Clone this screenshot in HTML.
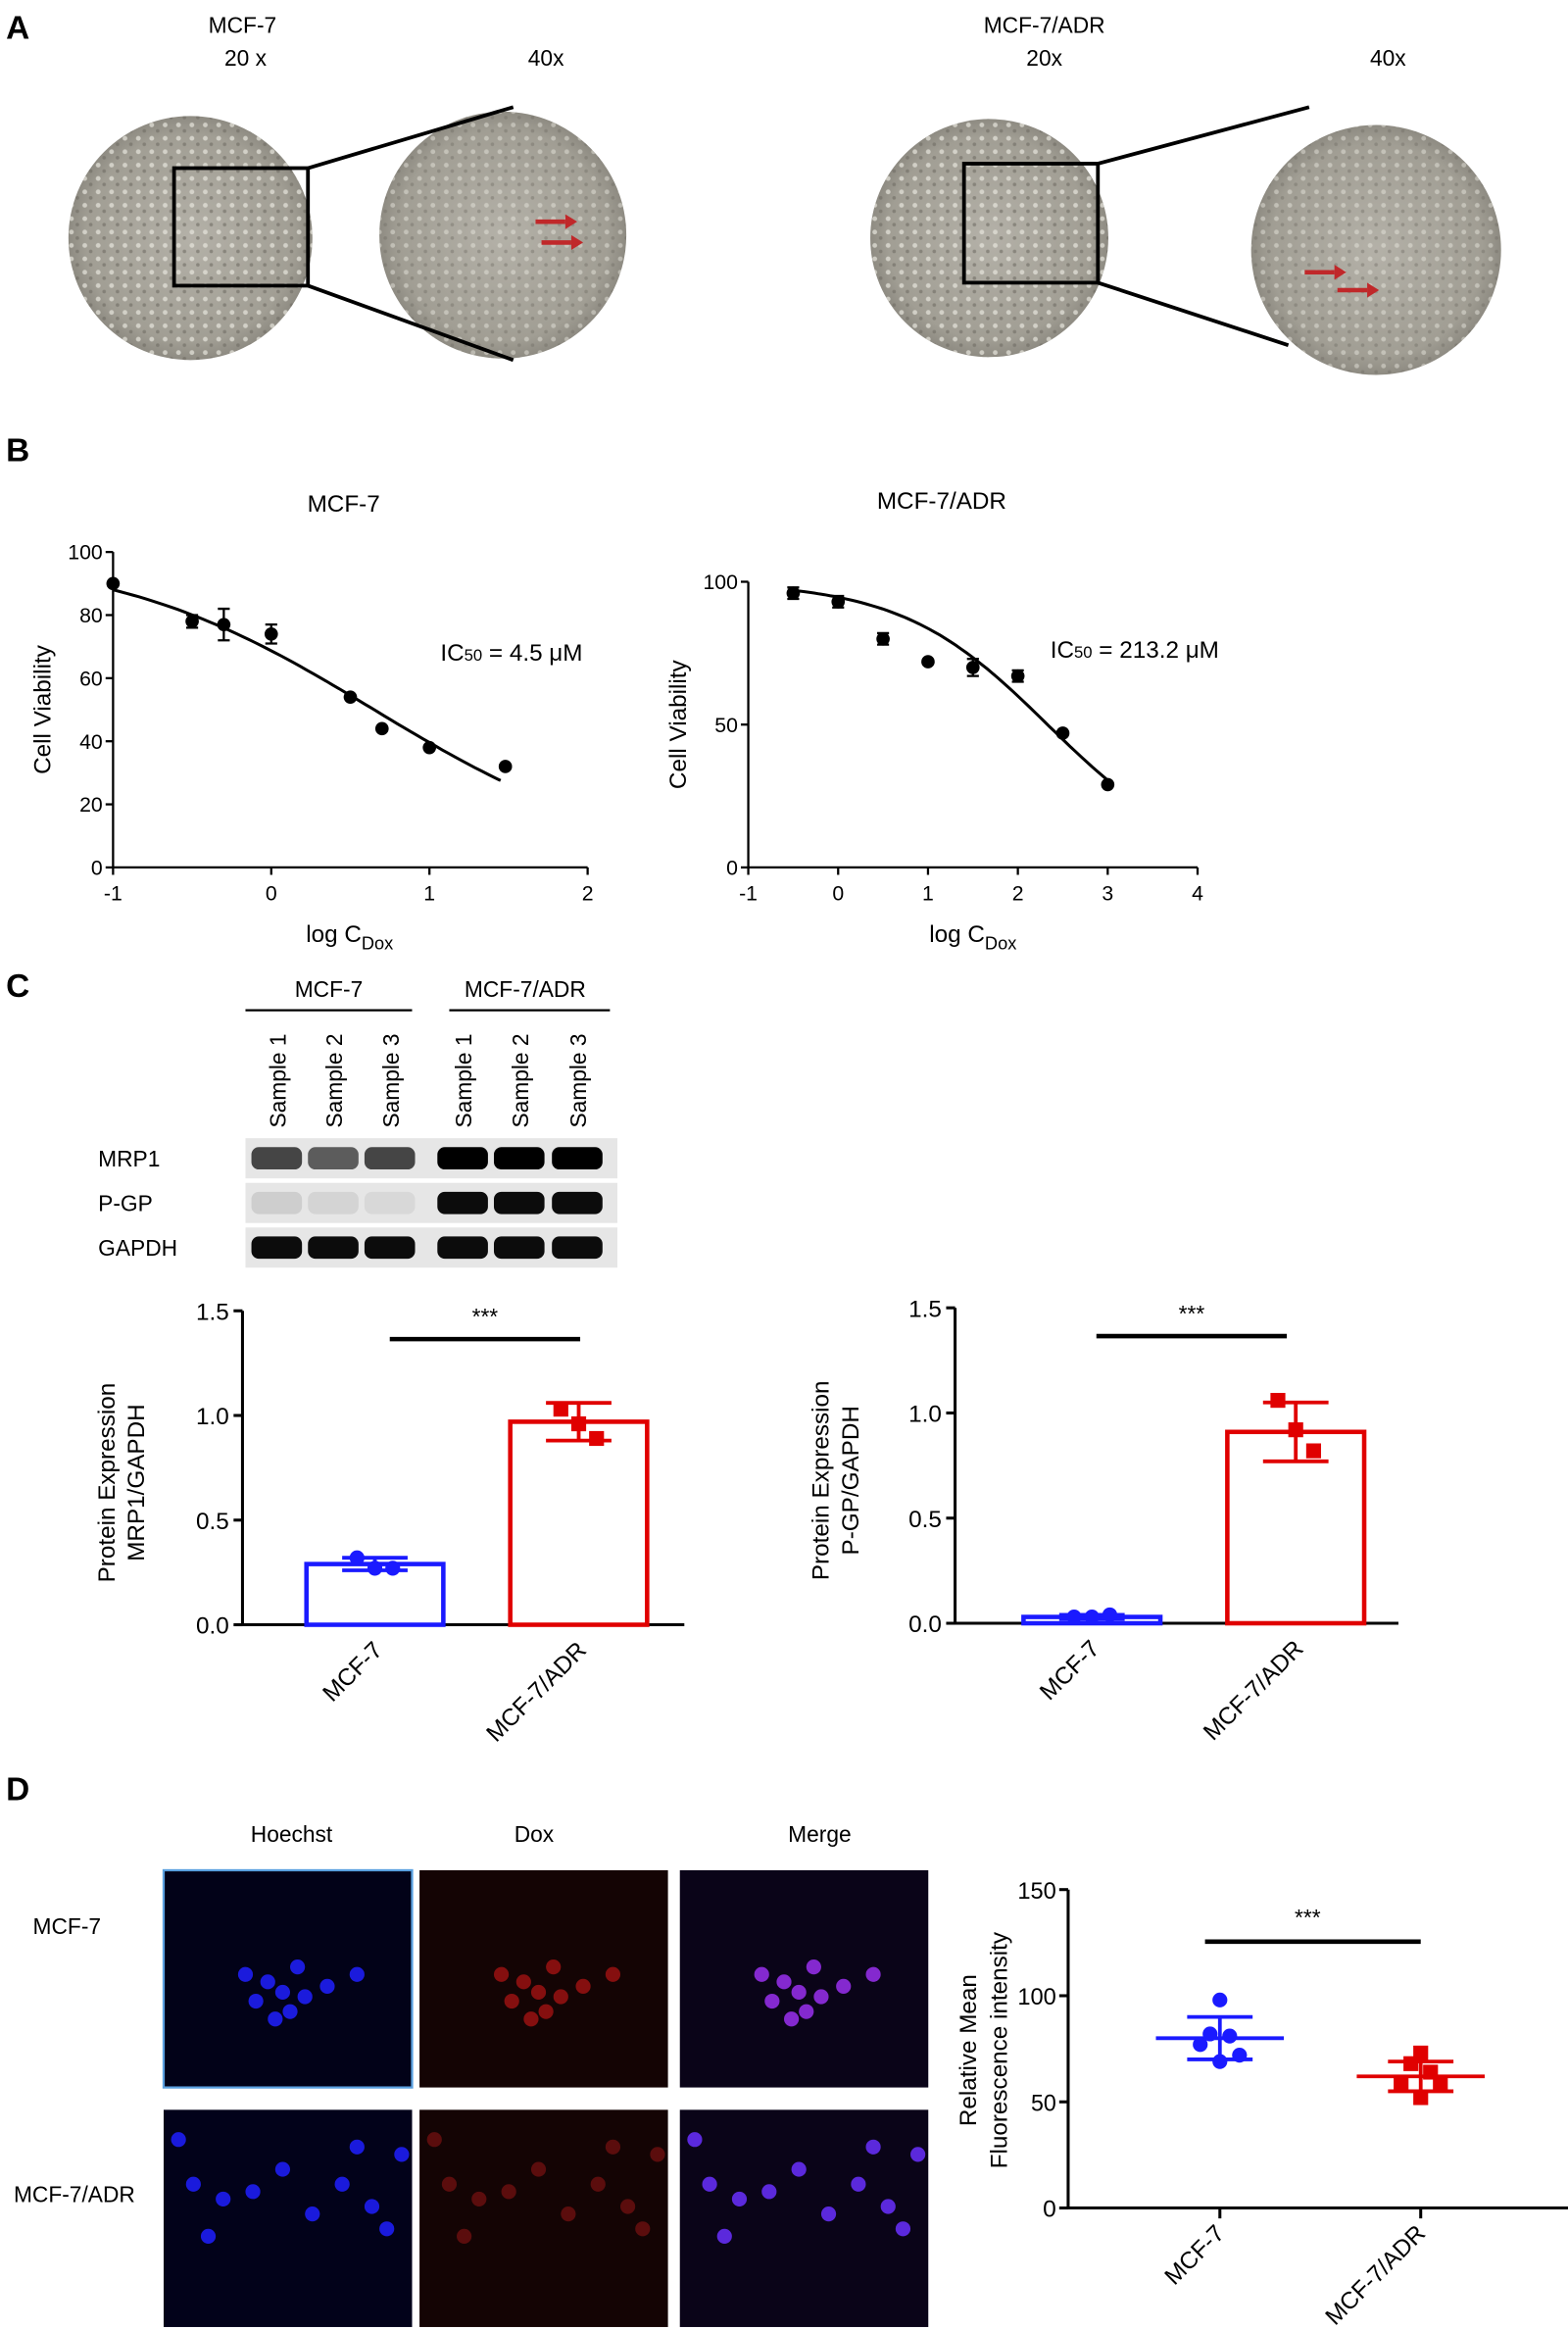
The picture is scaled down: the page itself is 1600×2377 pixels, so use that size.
<!DOCTYPE html>
<html><head><meta charset="utf-8"><style>
html,body{margin:0;padding:0;background:#fff;}
svg{display:block;font-family:"Liberation Sans",Arial,sans-serif;}
</style></head><body>
<svg id="fig" width="1600" height="2377" viewBox="0 0 1054 1566" preserveAspectRatio="none" xmlns="http://www.w3.org/2000/svg">
<defs>
<radialGradient id="micro" cx="50%" cy="50%" r="50%"><stop offset="0" stop-color="#b4b1a8"/><stop offset="0.85" stop-color="#a19e94"/><stop offset="1" stop-color="#8e8b82"/></radialGradient>
<pattern id="cells" width="9" height="9" patternUnits="userSpaceOnUse"><circle cx="3" cy="3" r="1.6" fill="#e8e6de" opacity="0.7"/><circle cx="7" cy="7" r="1.2" fill="#6f6c64" opacity="0.6"/></pattern>
</defs>
<g font-size="15" fill="#000">
<!-- Panel A -->
<text x="4" y="26" font-size="22" font-weight="bold">A</text>
<text x="163" y="22" text-anchor="middle">MCF-7</text>
<text x="165" y="44" text-anchor="middle">20 x</text>
<text x="367" y="44" text-anchor="middle">40x</text>
<text x="702" y="22" text-anchor="middle">MCF-7/ADR</text>
<text x="702" y="44" text-anchor="middle">20x</text>
<text x="933" y="44" text-anchor="middle">40x</text>
<g><circle cx="128" cy="160" r="82" fill="url(#micro)"/><circle cx="128" cy="160" r="82" fill="url(#cells)"/></g>
<g><circle cx="338" cy="158" r="83" fill="url(#micro)"/><circle cx="338" cy="158" r="83" fill="url(#cells)" opacity="0.7"/></g>
<g><circle cx="665" cy="160" r="80" fill="url(#micro)"/><circle cx="665" cy="160" r="80" fill="url(#cells)"/></g>
<g><circle cx="925" cy="168" r="84" fill="url(#micro)"/><circle cx="925" cy="168" r="84" fill="url(#cells)" opacity="0.7"/></g>
<g stroke="#000" stroke-width="2.5" fill="none">
<rect x="117" y="113" width="90" height="79"/>
<line x1="207" y1="113" x2="345" y2="72"/><line x1="207" y1="192" x2="345" y2="242"/>
<rect x="648" y="110" width="90" height="80"/>
<line x1="738" y1="110" x2="880" y2="72"/><line x1="738" y1="190" x2="866" y2="232"/>
</g>
<g stroke="#c0282a" stroke-width="3" fill="#c0282a">
<line x1="360" y1="149" x2="380" y2="149"/><polygon points="380,144 388,149 380,154" stroke="none"/>
<line x1="364" y1="163" x2="384" y2="163"/><polygon points="384,158 392,163 384,168" stroke="none"/>
<line x1="877" y1="183" x2="897" y2="183"/><polygon points="897,178 905,183 897,188" stroke="none"/>
<line x1="899" y1="195" x2="919" y2="195"/><polygon points="919,190 927,195 919,200" stroke="none"/>
</g>
<!-- Panel B -->
<text x="4" y="310" font-size="22" font-weight="bold">B</text>
<g id="bLeft"></g>
<g id="bRight"></g>
<!-- Panel C -->
<text x="4" y="670" font-size="22" font-weight="bold">C</text>
<text x="221" y="670" text-anchor="middle">MCF-7</text>
<line x1="165" y1="679" x2="277" y2="679" stroke="#000" stroke-width="1.5"/>
<text x="353" y="670" text-anchor="middle">MCF-7/ADR</text>
<line x1="302" y1="679" x2="410" y2="679" stroke="#000" stroke-width="1.5"/>
<g id="blot"></g>
<g id="cLeft"></g>
<g id="cRight"></g>
<!-- Panel D -->
<text x="4" y="1210" font-size="22" font-weight="bold">D</text>
<text x="196" y="1238" text-anchor="middle">Hoechst</text>
<text x="359" y="1238" text-anchor="middle">Dox</text>
<text x="551" y="1238" text-anchor="middle">Merge</text>
<text x="45" y="1300" text-anchor="middle">MCF-7</text>
<text x="50" y="1480" text-anchor="middle">MCF-7/ADR</text>
<g id="fluo"></g>
<g id="dChart"></g>
</g>
</svg>
<script>
// ---------- data ----------
const mcfDoseX = [-1, -0.5, -0.3, 0, 0.5, 0.7, 1, 1.48];
const mcfViab  = [90, 78, 77, 74, 54, 44, 38, 32];
const mcfErr   = [0, 2, 5, 3, 0, 0, 0, 0];
const mcfFit   = [0.65, 0.525]; // logIC50, hill
const adrDoseX = [-0.5, 0, 0.5, 1, 1.5, 2, 2.5, 3];
const adrViab  = [96, 93, 80, 72, 70, 67, 47, 29];
const adrErr   = [2, 2, 2, 0, 3, 2, 0, 0];
const adrFit   = [2.33, 0.533];
const mcfXTicks = [-1, 0, 1, 2];
const mcfYTicks = [0, 20, 40, 60, 80, 100];
const adrXTicks = [-1, 0, 1, 2, 3, 4];
const adrYTicks = [0, 50, 100];
const barCats = ["MCF-7", "MCF-7/ADR"];
const mrp1Means = [0.29, 0.97];
const mrp1SD = [0.03, 0.09];
const mrp1Pts = [[0.32, 0.27, 0.27], [1.03, 0.96, 0.89]];
const pgpMeans = [0.03, 0.91];
const pgpSD = [0.01, 0.14];
const pgpPts = [[0.03, 0.03, 0.04], [1.06, 0.92, 0.82]];
const barTicks = [0, 0.5, 1.0, 1.5];
const fluoMCF = [98, 82, 81, 77, 72, 69];
const fluoADR = [73, 68, 64, 59, 58, 52];
const fluoMeans = [80, 62];
const fluoSD = [10, 7];
const fluoTicks = [0, 50, 100, 150];
const blotRows = ["MRP1", "P-GP", "GAPDH"];
const blotIntensity = [[0.7, 0.6, 0.7, 1, 1, 1], [0.1, 0.08, 0.06, 0.95, 0.95, 0.95], [0.95, 0.95, 0.95, 0.95, 0.95, 0.95]];
const samples = ["Sample 1","Sample 2","Sample 3","Sample 1","Sample 2","Sample 3"];

const NS = "http://www.w3.org/2000/svg";
function mk(parent, tag, attrs, text) {
  const e = document.createElementNS(NS, tag);
  for (const k in attrs) e.setAttribute(k, attrs[k]);
  if (text !== undefined) e.textContent = text;
  parent.appendChild(e);
  return e;
}
function lin(d0, d1, r0, r1) { return v => r0 + (v - d0) * (r1 - r0) / (d1 - d0); }

// ---------- panel B ----------
function viability(g, o) {
  const sx = lin(o.xd[0], o.xd[1], o.x0, o.x1), sy = lin(0, 100, o.y0, o.y1);
  mk(g, "text", {x: o.tx, y: o.ty, "text-anchor": "middle", "font-size": 16}, o.title);
  const ax = mk(g, "path", {d: `M${o.x0} ${o.y1}V${o.y0}H${o.x1}`, stroke: "#000", "stroke-width": 1.5, fill: "none"});
  
  
  o.xt.forEach(t => {
    mk(g, "line", {x1: sx(t), x2: sx(t), y1: o.y0, y2: o.y0 + 5, stroke: "#000", "stroke-width": 1.5});
    const tl = mk(g, "text", {x: sx(t), y: o.y0 + 22, "text-anchor": "middle", "font-size": 14}, t);
    
    
  });
  o.yt.forEach(t => {
    mk(g, "line", {x1: o.x0 - 5, x2: o.x0, y1: sy(t), y2: sy(t), stroke: "#000", "stroke-width": 1.5});
    const tl = mk(g, "text", {x: o.x0 - 7, y: sy(t) + 5, "text-anchor": "end", "font-size": 14}, t);
    
    
  });
  const xl = mk(g, "text", {x: o.lx, y: o.y0 + 50, "text-anchor": "middle", "font-size": 16});
  
  
  xl.innerHTML = 'log C<tspan font-size="12" dy="5">Dox</tspan>';
  const yl = mk(g, "text", {transform: `translate(${o.ylx},${(o.y0 + o.y1) / 2}) rotate(-90)`, "text-anchor": "middle", "font-size": 16}, "Cell Viability");
  
  
  const ic = mk(g, "text", {x: o.icx, y: o.icy, "font-size": 16});
  
  
  ic.innerHTML = 'IC<tspan font-size="11">50</tspan> = ' + o.ic;
  let d = "";
  for (let i = 0; i <= 60; i++) {
    const x = o.cx[0] + (o.cx[1] - o.cx[0]) * i / 60;
    const y = 100 / (1 + Math.pow(10, (x - o.fit[0]) * o.fit[1]));
    d += (i ? "L" : "M") + sx(x).toFixed(1) + " " + sy(y).toFixed(1);
  }
  const c = mk(g, "path", {d, stroke: "#000", "stroke-width": 2, fill: "none"});
  
  
  o.xs.forEach((x, i) => {
    const px = sx(x), py = sy(o.ys[i]);
    if (o.err[i]) {
      const e = mk(g, "path", {d: `M${px} ${sy(o.ys[i] + o.err[i])}V${sy(o.ys[i] - o.err[i])}M${px - 4} ${sy(o.ys[i] + o.err[i])}h8M${px - 4} ${sy(o.ys[i] - o.err[i])}h8`, stroke: "#000", "stroke-width": 1.5});
      
      
    }
    const p = mk(g, "circle", {cx: px, cy: py, r: 4.5, fill: "#000"});
    
    
  });
}
viability(document.getElementById("bLeft"), {xd: [-1, 2], x0: 76, x1: 395, y0: 583, y1: 371, title: "MCF-7", tx: 231, ty: 344,
  xt: mcfXTicks, yt: mcfYTicks, lx: 235, ylx: 34, icx: 296, icy: 444, ic: "4.5 μM", cx: [-1, 1.45], fit: mcfFit, xs: mcfDoseX, ys: mcfViab, err: mcfErr});
viability(document.getElementById("bRight"), {xd: [-1, 4], x0: 503, x1: 805, y0: 583, y1: 391, title: "MCF-7/ADR", tx: 633, ty: 342,
  xt: adrXTicks, yt: adrYTicks, lx: 654, ylx: 461, icx: 706, icy: 442, ic: "213.2 μM", cx: [-0.5, 3], fit: adrFit, xs: adrDoseX, ys: adrViab, err: adrErr});

// ---------- blot ----------
(function () {
  const g = document.getElementById("blot");
  const lanes = [186, 224, 262, 311, 349, 388];
  lanes.forEach((x, i) => {
    const t = mk(g, "text", {transform: `translate(${x + 6},${758}) rotate(-90)`, "font-size": 15}, samples[i]);
    
    
  });
  const ys = [765, 795, 825];
  blotRows.forEach((r, ri) => {
    const l = mk(g, "text", {x: 66, y: ys[ri] + 19, "font-size": 15}, r);
    
    
    mk(g, "rect", {x: 165, y: ys[ri], width: 250, height: 27, fill: "#e6e6e6"});
    lanes.forEach((x, i) => {
      const v = blotIntensity[ri][i];
      const b = mk(g, "rect", {x: x - 17, y: ys[ri] + 6, width: 34, height: 15, rx: 5, fill: "#000", opacity: v});
      
      
    });
  });
})();

// ---------- bar charts ----------
function bars(g, o) {
  const sy = lin(0, 1.5, o.y0, o.y1);
  const cols = ["#1a1aff", "#e00000"];
  mk(g, "path", {d: `M${o.x0} ${o.y1}V${o.y0}H${o.xe}`, stroke: "#000", "stroke-width": 2, fill: "none"});
  barTicks.forEach(t => {
    mk(g, "line", {x1: o.x0 - 6, x2: o.x0, y1: sy(t), y2: sy(t), stroke: "#000", "stroke-width": 2});
    const tl = mk(g, "text", {x: o.x0 - 9, y: sy(t) + 6, "text-anchor": "end", "font-size": 16}, t.toFixed(1));
    
    
  });
  const yl = mk(g, "text", {transform: `translate(${o.ylx},${(o.y0 + o.y1) / 2 + 10}) rotate(-90)`, "text-anchor": "middle", "font-size": 16});
  
  
  yl.innerHTML = `<tspan x="0" dy="0">Protein Expression</tspan><tspan x="0" dy="20">${o.label}</tspan>`;
  o.means.forEach((m, i) => {
    const cx = o.cx[i];
    const r = mk(g, "rect", {x: cx - 46, y: sy(m), width: 92, height: o.y0 - sy(m), fill: "none", stroke: cols[i], "stroke-width": 3});
    
    
    const e = mk(g, "path", {d: `M${cx} ${sy(m + o.sd[i])}V${sy(m - o.sd[i])}M${cx - 22} ${sy(m + o.sd[i])}h44M${cx - 22} ${sy(m - o.sd[i])}h44`, stroke: cols[i], "stroke-width": 2.5, fill: "none"});
    
    
    o.pts[i].forEach((v, j) => {
      const px = cx + (j - 1) * 12;
      const p = i === 0 ? mk(g, "circle", {cx: px, cy: sy(v), r: 5, fill: cols[i]}) : mk(g, "rect", {x: px - 5, y: sy(v) - 5, width: 10, height: 10, fill: cols[i]});
      
      
    });
    const xl = mk(g, "text", {transform: `translate(${cx + 6},${o.y0 + 18}) rotate(-45)`, "text-anchor": "end", "font-size": 16}, barCats[i]);
    
    
  });
  const s = mk(g, "line", {x1: o.sig[0], x2: o.sig[1], y1: o.sigY, y2: o.sigY, stroke: "#000", "stroke-width": 3});
  
  
  const st = mk(g, "text", {x: (o.sig[0] + o.sig[1]) / 2, y: o.sigY - 10, "text-anchor": "middle", "font-size": 15}, "***");
  
  
}
bars(document.getElementById("cLeft"), {x0: 163, xe: 460, y0: 1092, y1: 881, ylx: 77, label: "MRP1/GAPDH", cx: [252, 389], means: mrp1Means, sd: mrp1SD, pts: mrp1Pts, sig: [262, 390], sigY: 900});
bars(document.getElementById("cRight"), {x0: 642, xe: 940, y0: 1091, y1: 879, ylx: 557, label: "P-GP/GAPDH", cx: [734, 871], means: pgpMeans, sd: pgpSD, pts: pgpPts, sig: [737, 865], sigY: 898});

// ---------- fluorescence images ----------
(function () {
  const g = document.getElementById("fluo");
  const xs = [110, 282, 457], ys = [1257, 1418];
  const bg = [["#020218", "#140404", "#0a0418"], ["#02021a", "#140404", "#0a0418"]];
  const cc = [["#2020ff", "#d01818", "#9a30f0"], ["#1e1eff", "#8a1414", "#6a30ff"]];
  const blobs1 = [[70,75],[80,82],[62,88],[85,95],[75,100],[95,85],[55,70],[110,78],[130,70],[90,65]];
  const blobs2 = [[20,50],[40,60],[60,55],[100,70],[120,50],[140,65],[150,80],[30,85],[80,40],[130,25],[10,20],[160,30]];
  ys.forEach((y, r) => xs.forEach((x, c) => {
    const im = mk(g, "rect", {x, y, width: 167, height: 146, fill: bg[r][c], stroke: r === 0 && c === 0 ? "#5aa0e0" : "none", "stroke-width": 1.5});
    
    
    (r === 0 ? blobs1 : blobs2).forEach(b => mk(g, "circle", {cx: x + b[0], cy: y + b[1], r: 5, fill: cc[r][c], opacity: c === 1 ? 0.6 : 0.85}));
  }));
})();

// ---------- scatter chart D ----------
(function () {
  const g = document.getElementById("dChart");
  const x0 = 718, y0 = 1484, y1 = 1270, sy = lin(0, 150, y0, y1);
  const cx = [820, 955], cols = ["#1a1aff", "#e00000"];
  mk(g, "path", {d: `M${x0} ${y1}V${y0}H1054`, stroke: "#000", "stroke-width": 2, fill: "none"});
  fluoTicks.forEach(t => {
    mk(g, "line", {x1: x0 - 6, x2: x0, y1: sy(t), y2: sy(t), stroke: "#000", "stroke-width": 2});
    const tl = mk(g, "text", {x: x0 - 8, y: sy(t) + 6, "text-anchor": "end", "font-size": 16, "textLength": t >= 100 ? 26 : (t > 0 ? 17 : 9), "lengthAdjust": "spacingAndGlyphs"}, t);
    
    
  });
  const yl = mk(g, "text", {transform: `translate(656,1378) rotate(-90)`, "text-anchor": "middle", "font-size": 16});
  
  
  yl.innerHTML = '<tspan x="0" dy="0">Relative Mean</tspan><tspan x="0" dy="21">Fluorescence intensity</tspan>';
  [fluoMCF, fluoADR].forEach((arr, i) => {
    mk(g, "line", {x1: cx[i], x2: cx[i], y1: y0, y2: y0 + 7, stroke: "#000", "stroke-width": 2});
    const m = fluoMeans[i], s = fluoSD[i];
    const e = mk(g, "path", {d: `M${cx[i] - 43} ${sy(m)}h86M${cx[i]} ${sy(m + s)}V${sy(m - s)}M${cx[i] - 22} ${sy(m + s)}h44M${cx[i] - 22} ${sy(m - s)}h44`, stroke: cols[i], "stroke-width": 2.5, fill: "none"});
    
    
    const off = [0, -6, 6, -12, 12, 0];
    arr.forEach((v, j) => {
      const px = cx[i] + off[j] * 1.1;
      const p = i === 0 ? mk(g, "circle", {cx: px, cy: sy(v), r: 5, fill: cols[i]}) : mk(g, "rect", {x: px - 5, y: sy(v) - 5, width: 10, height: 10, fill: cols[i]});
      
      
    });
    const xl = mk(g, "text", {transform: `translate(${cx[i] + 4},${y0 + 18}) rotate(-45)`, "text-anchor": "end", "font-size": 16}, barCats[i]);
    
    
  });
  const sl = mk(g, "line", {x1: 810, x2: 955, y1: 1305, y2: 1305, stroke: "#000", "stroke-width": 3});
  
  
  const st = mk(g, "text", {x: 879, y: 1294, "text-anchor": "middle", "font-size": 15}, "***");
  
  
})();
</script>
</body></html>
